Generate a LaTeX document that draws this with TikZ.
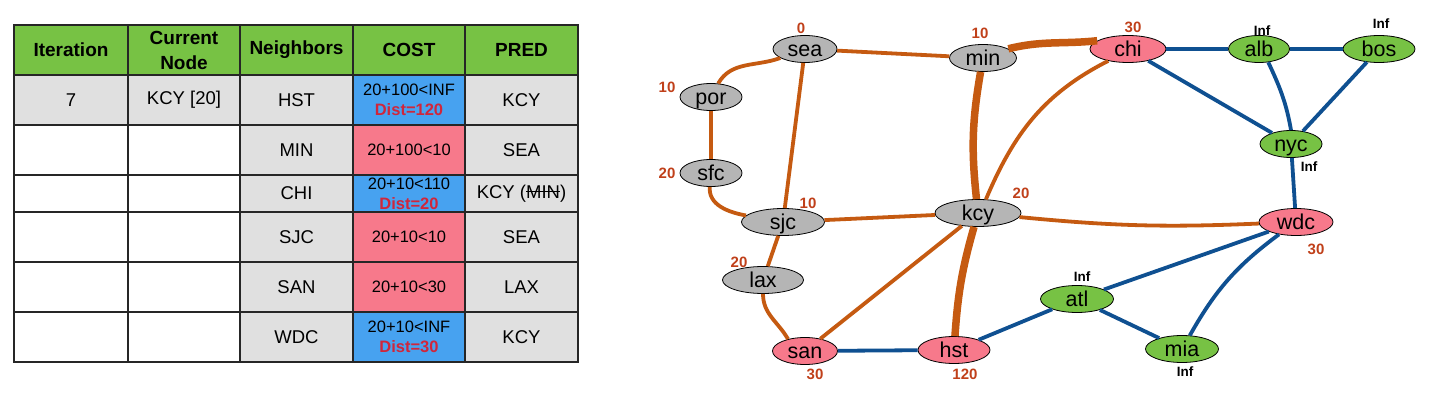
\documentclass[tikz,border=0pt]{standalone}
\usepackage{fontspec}
\setmainfont{Liberation Sans}
\usetikzlibrary{shapes.geometric}
\definecolor{hdrgreen}{HTML}{77C244}
\definecolor{cellgrey}{HTML}{E0E0E0}
\definecolor{costblue}{HTML}{47A2F0}
\definecolor{costpink}{HTML}{F7798B}
\definecolor{distred}{HTML}{D0263B}
\definecolor{tblline}{HTML}{262626}
\definecolor{nodegrey}{HTML}{B5B5B5}
\definecolor{nodepink}{HTML}{F7798B}
\definecolor{nodegreen}{HTML}{77C244}
\definecolor{edgeorange}{HTML}{C55A11}
\definecolor{edgeblue}{HTML}{0F5091}
\definecolor{lblorange}{HTML}{C0401A}
\newcommand\disttext[1]{{\color{distred}\bfseries #1}}
\newsavebox\strikebox
\newcommand\strikeword[1]{\sbox\strikebox{#1}\rlap{\usebox\strikebox}\rule[0.33em]{\wd\strikebox}{0.07em}}
\begin{document}
\begin{tikzpicture}[x=1pt,y=1pt,
  cell/.style={draw=tblline, line width=1.4pt, inner sep=0pt, align=center, font=\fontsize{18.5}{23}\selectfont},
  hdr/.style={cell, fill=hdrgreen, font=\bfseries\fontsize{19}{25}\selectfont},
  gcell/.style={cell, fill=cellgrey},
  wcell/.style={cell, fill=white},
  bcell/.style={cell, fill=costblue, font=\fontsize{16.5}{20}\selectfont},
  pcell/.style={cell, fill=costpink, font=\fontsize{16.5}{20}\selectfont},
  colA/.style={minimum width=114pt},
  colB/.style={minimum width=112pt},
  colC/.style={minimum width=113pt},
  colD/.style={minimum width=112pt},
  colE/.style={minimum width=113pt},
  rowT/.style={minimum height=50pt},
  rowS/.style={minimum height=37pt},
  gnode/.style={ellipse, draw=black, line width=0.8pt, inner sep=0pt, minimum height=27pt, text height=15pt, text depth=0pt, font=\fontsize{21.5}{24}\selectfont},
  greyn/.style={gnode, fill=nodegrey},
  pinkn/.style={gnode, fill=nodepink},
  greenn/.style={gnode, fill=nodegreen},
  lblo/.style={text=lblorange, inner sep=0pt, font=\bfseries\fontsize{15}{18}\selectfont},
  lblinf/.style={text=black, inner sep=0pt, font=\bfseries\fontsize{13.5}{16}\selectfont},
  oedge/.style={draw=edgeorange, line width=3.8pt},
  othick/.style={draw=edgeorange, line width=7.5pt},
  bedge/.style={draw=edgeblue, line width=3.8pt}
]
\useasboundingbox (0,0) rectangle (1430,-401);

% ---------- table ----------
\node[hdr, colA, rowT] (h1) at (71,-50) {Iteration};
\node[hdr, colB, rowT] (h2) at (184,-50) {Current\\Node};
\node[hdr, colC, rowT] (h3) at (296.5,-50) {Neighbors};
\node[hdr, colD, rowT] (h4) at (409,-50) {COST};
\node[hdr, colE, rowT] (h5) at (521.5,-50) {PRED};

\node[gcell, colA, rowT] (a1) at (71,-100) {7};
\node[gcell, colB, rowT] (b1) at (184,-100) {KCY [20]};
\node[gcell, colC, rowT] (n1) at (296.5,-100) {HST};
\node[bcell, colD, rowT] (k1) at (409,-100) {20+100<INF\\\disttext{Dist=120}};
\node[gcell, colE, rowT] (p1) at (521.5,-100) {KCY};

\node[wcell, colA, rowT] (a2) at (71,-150) {};
\node[wcell, colB, rowT] (b2) at (184,-150) {};
\node[gcell, colC, rowT] (n2) at (296.5,-150) {MIN};
\node[pcell, colD, rowT] (k2) at (409,-150) {20+100<10};
\node[gcell, colE, rowT] (p2) at (521.5,-150) {SEA};

\node[wcell, colA, rowS] (a3) at (71,-193.5) {};
\node[wcell, colB, rowS] (b3) at (184,-193.5) {};
\node[gcell, colC, rowS] (n3) at (296.5,-193.5) {CHI};
\node[bcell, colD, rowS] (k3) at (409,-193.5) {20+10<110\\\disttext{Dist=20}};
\node[gcell, colE, rowS] (p3) at (521.5,-193.5) {KCY (\strikeword{MIN})};

\node[wcell, colA, rowT] (a4) at (71,-237) {};
\node[wcell, colB, rowT] (b4) at (184,-237) {};
\node[gcell, colC, rowT] (n4) at (296.5,-237) {SJC};
\node[pcell, colD, rowT] (k4) at (409,-237) {20+10<10};
\node[gcell, colE, rowT] (p4) at (521.5,-237) {SEA};

\node[wcell, colA, rowT] (a5) at (71,-287) {};
\node[wcell, colB, rowT] (b5) at (184,-287) {};
\node[gcell, colC, rowT] (n5) at (296.5,-287) {SAN};
\node[pcell, colD, rowT] (k5) at (409,-287) {20+10<30};
\node[gcell, colE, rowT] (p5) at (521.5,-287) {LAX};

\node[wcell, colA, rowT] (a6) at (71,-337) {};
\node[wcell, colB, rowT] (b6) at (184,-337) {};
\node[gcell, colC, rowT] (n6) at (296.5,-337) {WDC};
\node[bcell, colD, rowT] (k6) at (409,-337) {20+10<INF\\\disttext{Dist=30}};
\node[gcell, colE, rowT] (p6) at (521.5,-337) {KCY};

% ---------- graph nodes ----------
\node[greyn, minimum width=64pt] (sea) at (805,-49) {sea};
\node[greyn, minimum width=67pt] (min) at (983,-58) {min};
\node[greyn, minimum width=62pt] (por) at (711,-97) {por};
\node[greyn, minimum width=62pt] (sfc) at (711,-173) {sfc};
\node[pinkn, minimum width=76pt] (chi) at (1128,-49) {chi};
\node[greenn, minimum width=61pt] (alb) at (1259,-49) {alb};
\node[greenn, minimum width=72pt] (bos) at (1379,-49) {bos};
\node[greenn, minimum width=62pt] (nyc) at (1291,-144) {nyc};
\node[greyn, minimum width=83pt] (sjc) at (783,-222) {sjc};
\node[greyn, minimum width=86pt] (kcy) at (978,-213) {kcy};
\node[greyn, minimum width=81pt] (lax) at (763,-280) {lax};
\node[pinkn, minimum width=65pt] (san) at (805,-351) {san};
\node[pinkn, minimum width=72pt] (hst) at (954,-350) {hst};
\node[pinkn, minimum width=74pt] (wdc) at (1296,-222) {wdc};
\node[greenn, minimum width=73pt] (atl) at (1077,-299) {atl};
\node[greenn, minimum width=73pt] (mia) at (1182,-349) {mia};

% ---------- edges ----------
\draw[oedge] (sea.200) to[out=200,in=60] (por.62);
\draw[oedge] (por) -- (sfc);
\draw[oedge] (sfc.-95) to[out=-95,in=170] (sjc.170);
\draw[oedge] (sea) -- (sjc);
\draw[oedge] (sea) -- (min);
\draw[othick] (min.20) to[out=14,in=186] (chi.165);
\draw[othick] (min) to[bend right=8] (kcy);
\draw[oedge] (chi.211) to[out=207,in=67] (kcy.60);
\draw[oedge] (sjc) -- (kcy);
\draw[oedge] (kcy) to[bend right=4] (wdc);
\draw[oedge] (kcy) -- (san);
\draw[othick] (kcy) to[bend right=6] (hst);
\draw[oedge] (sjc) -- (lax);
\draw[oedge] (lax.south) to[out=-90,in=120] (san.145);

\draw[bedge] (chi) -- (alb);
\draw[bedge] (alb) -- (bos);
\draw[bedge] (chi) -- (nyc);
\draw[bedge] (alb.-55) to[out=-65,in=100] (nyc.90);
\draw[bedge] (bos) -- (nyc);
\draw[bedge] (nyc) -- (wdc);
\draw[bedge] (wdc) -- (atl);
\draw[bedge] (wdc) to[bend right=12] (mia);
\draw[bedge] (atl) -- (mia);
\draw[bedge] (hst) -- (atl);
\draw[bedge] (san) -- (hst);

% ---------- labels ----------
\node[lblo] (lsea) at (801,-28) {0};
\node[lblo] (lmin) at (980,-33) {10};
\node[lblo] (lpor) at (667,-87) {10};
\node[lblo] (lsfc) at (667,-173) {20};
\node[lblo] (lchi) at (1133,-27) {30};
\node[lblinf] (lalb) at (1262,-31) {Inf};
\node[lblinf] (lbos) at (1381,-24) {Inf};
\node[lblinf] (lnyc) at (1309,-167) {Inf};
\node[lblo] (lkcy) at (1021,-193) {20};
\node[lblo] (lsjc) at (808,-203) {10};
\node[lblo] (llax) at (739,-262) {20};
\node[lblo] (lsan) at (815,-374) {30};
\node[lblo] (lhst) at (965,-374) {120};
\node[lblo] (lwdc) at (1316,-249) {30};
\node[lblinf] (latl) at (1082,-277) {Inf};
\node[lblinf] (lmia) at (1185,-372) {Inf};
\end{tikzpicture}
\end{document}
